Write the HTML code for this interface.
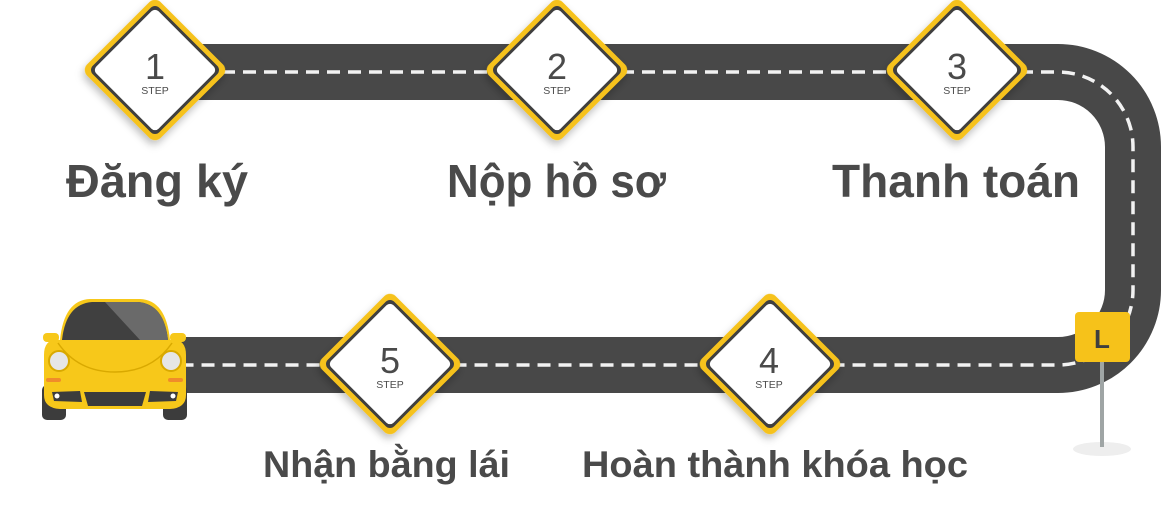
<!DOCTYPE html>
<html><head><meta charset="utf-8"><style>
html,body{margin:0;padding:0;background:#fff;width:1165px;height:514px;overflow:hidden}
svg text{font-family:"Liberation Sans",sans-serif;font-weight:bold;fill:#4a4a4a}
</style></head><body>
<svg width="1165" height="514" viewBox="0 0 1165 514" xmlns="http://www.w3.org/2000/svg">
<defs>
<filter id="sh" x="-30%" y="-30%" width="160%" height="160%"><feDropShadow dx="2" dy="4" stdDeviation="4" flood-color="#000" flood-opacity="0.25"/></filter>
<g id="dia">
<rect x="-52" y="-52" width="104" height="104" rx="8" transform="rotate(45)" fill="#f6c21a" filter="url(#sh)"/>
<rect x="-47" y="-47" width="94" height="94" rx="6" transform="rotate(45)" fill="#3f3f3f"/>
<rect x="-44" y="-44" width="88" height="88" rx="5" transform="rotate(45)" fill="#fff"/>
</g>
</defs>
<path d="M180 72 H1058 A75 75 0 0 1 1133 147 V290 A75 75 0 0 1 1058 365 H180" fill="none" stroke="#484848" stroke-width="56"/>
<path d="M180 72 H1058 A75 75 0 0 1 1133 147 V290 A75 75 0 0 1 1058 365 H180" fill="none" stroke="#f2f2f2" stroke-width="3.5" stroke-dasharray="13 8"/>
<ellipse cx="1102" cy="449" rx="29" ry="7" fill="#eeeeee"/>
<rect x="1100" y="355" width="4" height="92" fill="#9fa5a5"/>
<rect x="1075" y="312" width="55" height="50" rx="4" fill="#f6c21a"/>
<text x="1102" y="348" text-anchor="middle" font-size="26" style="fill:#3f3f3f">L</text>
<g>
<rect x="42" y="385" width="24" height="35" rx="5" fill="#3c3c3c"/>
<rect x="163" y="385" width="24" height="35" rx="5" fill="#3c3c3c"/>
<path d="M60 340 Q64 300 90 299 L140 299 Q166 300 170 340 Z" fill="#f7c81a"/>
<path d="M62 340 Q66 304 92 302 L138 302 Q164 304 168 340 Z" fill="#404040"/>
<path d="M105 302 L138 302 Q164 304 168 340 L140 340 Z" fill="#6a6a6a"/>
<rect x="43" y="333" width="16" height="9" rx="4" fill="#f7c81a"/>
<rect x="170" y="333" width="16" height="9" rx="4" fill="#f7c81a"/>
<path d="M44 355 Q44 338 60 340 L170 340 Q186 338 186 355 L186 395 Q186 408 170 409 L60 409 Q44 408 44 395 Z" fill="#f7c81a"/>
<path d="M58 343 Q78 372 115 372 Q152 372 172 343" fill="none" stroke="#d9a900" stroke-width="1.5"/>
<circle cx="59" cy="361" r="10" fill="#e6e6e6" stroke="#d9a900" stroke-width="2"/>
<circle cx="171" cy="361" r="10" fill="#e6e6e6" stroke="#d9a900" stroke-width="2"/>
<rect x="46" y="378" width="15" height="4" rx="2" fill="#f08c2a"/>
<rect x="168" y="378" width="15" height="4" rx="2" fill="#f08c2a"/>
<path d="M52 392 L80 391 L82 402 L54 401 Z" fill="#3c3c3c"/>
<path d="M178 392 L150 391 L148 402 L176 401 Z" fill="#3c3c3c"/>
<path d="M84 392 L146 392 L142 406 L88 406 Z" fill="#3c3c3c"/>
<circle cx="57" cy="396" r="2.5" fill="#fff"/>
<circle cx="173" cy="396" r="2.5" fill="#fff"/>
</g>
<use href="#dia" x="155" y="70"/>
<use href="#dia" x="557" y="70"/>
<use href="#dia" x="957" y="70"/>
<use href="#dia" x="390" y="364"/>
<use href="#dia" x="770" y="364"/>
<text x="155" y="79" text-anchor="middle" font-size="36" style="font-weight:normal">1</text>
<text x="155" y="94" text-anchor="middle" font-size="10.5" style="font-weight:normal">STEP</text>
<text x="557" y="79" text-anchor="middle" font-size="36" style="font-weight:normal">2</text>
<text x="557" y="94" text-anchor="middle" font-size="10.5" style="font-weight:normal">STEP</text>
<text x="957" y="79" text-anchor="middle" font-size="36" style="font-weight:normal">3</text>
<text x="957" y="94" text-anchor="middle" font-size="10.5" style="font-weight:normal">STEP</text>
<text x="390" y="373" text-anchor="middle" font-size="36" style="font-weight:normal">5</text>
<text x="390" y="388" text-anchor="middle" font-size="10.5" style="font-weight:normal">STEP</text>
<text x="769" y="373" text-anchor="middle" font-size="36" style="font-weight:normal">4</text>
<text x="769" y="388" text-anchor="middle" font-size="10.5" style="font-weight:normal">STEP</text>
<text x="66" y="197" font-size="46" textLength="182" lengthAdjust="spacingAndGlyphs">Đăng ký</text>
<text x="447" y="197" font-size="46" textLength="219" lengthAdjust="spacingAndGlyphs">Nộp hồ sơ</text>
<text x="832" y="197" font-size="46" textLength="248" lengthAdjust="spacingAndGlyphs">Thanh toán</text>
<text x="263" y="477" font-size="37" textLength="247" lengthAdjust="spacingAndGlyphs">Nhận bằng lái</text>
<text x="582" y="477" font-size="37" textLength="386" lengthAdjust="spacingAndGlyphs">Hoàn thành khóa học</text>
</svg>
</body></html>
